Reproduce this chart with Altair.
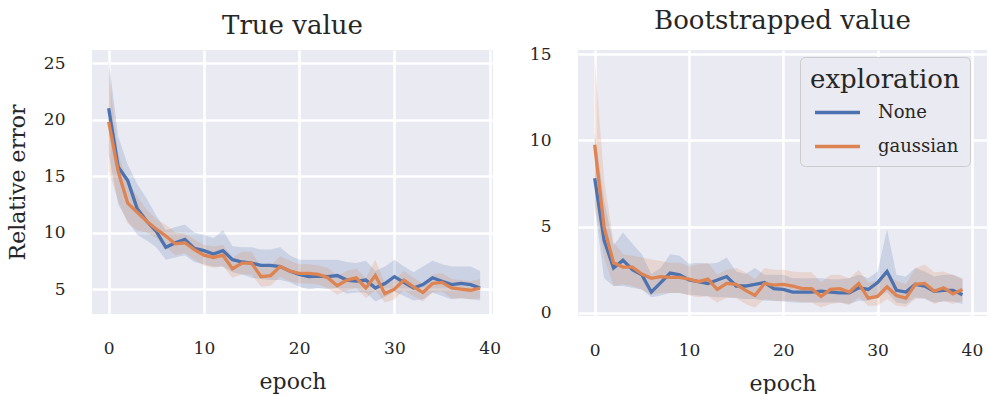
import altair as alt
import pandas as pd

# ---- data -------------------------------------------------------------
epochs = list(range(40))
methods = ["None", "gaussian"]

# "True value" panel: mean relative error and its 95% band per epoch
true_none = [21.0, 15.8, 14.6, 12.1, 11.0, 10.1, 8.7, 9.1, 9.4, 8.6,
             8.4, 8.1, 8.4, 7.6, 7.4, 7.3, 7.1, 7.1, 7.0, 6.6,
             6.3, 6.1, 6.15, 6.1, 6.2, 5.8, 5.7, 5.8, 5.1, 5.5,
             6.1, 5.6, 5.1, 5.4, 6.0, 5.7, 5.4, 5.5, 5.4, 5.1]
true_none_lo = [16.9, 12.5, 11.0, 9.8, 9.3, 8.7, 7.6, 7.8, 8.0, 7.4,
                7.2, 7.0, 7.0, 6.5, 6.3, 6.0, 5.9, 5.8, 5.8, 5.6,
                5.2, 5.0, 5.1, 5.0, 5.1, 4.6, 4.7, 4.7, 3.9, 4.3,
                4.8, 4.4, 4.0, 4.1, 4.7, 4.4, 4.1, 4.2, 4.1, 4.0]
true_none_hi = [25.3, 18.5, 16.0, 14.3, 13.0, 11.5, 10.2, 10.5, 10.7, 10.0,
                9.8, 9.5, 10.2, 8.8, 8.7, 8.7, 8.5, 8.5, 8.7, 8.0,
                7.6, 7.6, 7.6, 7.6, 7.6, 7.4, 7.3, 7.5, 6.6, 7.0,
                7.6, 7.0, 6.5, 7.0, 7.5, 7.2, 7.0, 7.0, 7.0, 6.6]
true_gauss = [19.8, 15.4, 12.6, 11.8, 11.0, 10.3, 9.7, 9.0, 9.1, 8.5,
              8.0, 7.8, 8.0, 6.8, 7.3, 7.3, 6.1, 6.2, 7.0, 6.6,
              6.4, 6.4, 6.3, 6.0, 5.3, 5.8, 6.0, 5.1, 6.2, 4.6,
              5.0, 5.8, 5.2, 4.7, 5.5, 5.6, 5.1, 5.0, 4.9, 5.1]
true_gauss_lo = [15.5, 12.8, 10.8, 10.2, 10.0, 9.5, 8.7, 8.0, 8.2, 7.6,
                 7.1, 6.9, 7.0, 6.0, 6.3, 6.3, 5.2, 5.3, 6.1, 5.7,
                 5.5, 5.5, 5.4, 5.1, 4.5, 4.9, 5.1, 4.2, 4.9, 3.8,
                 4.1, 4.9, 4.4, 3.9, 4.7, 4.8, 4.2, 4.2, 4.1, 4.2]
true_gauss_hi = [24.4, 17.0, 14.5, 13.2, 12.0, 11.2, 10.7, 10.0, 9.9, 9.4,
                 8.9, 8.8, 8.9, 7.8, 8.3, 8.3, 7.0, 7.1, 7.9, 7.5,
                 7.2, 7.2, 7.1, 6.9, 6.2, 6.6, 6.8, 6.0, 7.6, 5.5,
                 5.8, 6.6, 6.0, 5.5, 6.3, 6.4, 5.9, 5.8, 5.7, 5.9]

# "Bootstrapped value" panel
boot_none = [7.8, 4.2, 2.6, 3.05, 2.5, 2.2, 1.2, 1.75, 2.3, 2.2,
             1.9, 1.8, 1.7, 1.9, 2.1, 1.55, 1.55, 1.65, 1.75, 1.4,
             1.35, 1.2, 1.2, 1.2, 1.25, 1.2, 1.15, 1.15, 1.45, 1.35,
             1.75, 2.4, 1.3, 1.2, 1.65, 1.55, 1.25, 1.3, 1.3, 1.05]
boot_none_lo = [6.1, 2.0, 1.55, 1.55, 1.45, 1.35, 0.9, 1.0, 1.15, 1.15,
                1.05, 1.0, 0.95, 0.9, 0.9, 0.85, 0.8, 0.8, 0.7, 0.7,
                0.65, 0.6, 0.6, 0.6, 0.6, 0.6, 0.6, 0.5, 0.7, 0.7,
                0.9, 1.2, 0.6, 0.5, 0.9, 0.8, 0.6, 0.65, 0.65, 0.5]
boot_none_hi = [10.4, 6.5, 3.9, 4.65, 4.0, 3.4, 2.25, 2.6, 3.4, 3.3,
                2.85, 2.9, 2.85, 2.9, 3.2, 2.4, 2.25, 2.6, 2.2, 2.2,
                2.2, 2.0, 2.0, 2.0, 2.0, 1.95, 1.95, 2.0, 2.2, 2.0,
                2.4, 4.85, 2.2, 2.1, 2.6, 2.4, 2.1, 2.2, 2.2, 1.95]
boot_gauss = [9.75, 4.95, 2.9, 2.65, 2.65, 2.25, 2.0, 2.1, 2.05, 2.05,
              1.95, 1.8, 1.95, 1.35, 1.7, 1.65, 1.3, 1.0, 1.7, 1.6,
              1.65, 1.55, 1.4, 1.4, 0.95, 1.35, 1.4, 1.2, 1.7, 0.85,
              0.95, 1.5, 1.0, 0.85, 1.65, 1.7, 1.25, 1.45, 1.1, 1.35]
boot_gauss_lo = [6.3, 3.2, 1.55, 1.65, 1.55, 1.35, 1.05, 1.15, 1.15, 1.15,
                 1.0, 0.9, 0.95, 0.6, 0.85, 0.85, 0.5, 0.3, 0.8, 0.7,
                 0.7, 0.7, 0.6, 0.6, 0.3, 0.5, 0.6, 0.45, 0.9, 0.4,
                 0.4, 0.8, 0.4, 0.35, 0.8, 0.85, 0.5, 0.7, 0.5, 0.7]
boot_gauss_hi = [14.75, 7.7, 4.1, 3.4, 3.3, 3.2, 3.1, 3.0, 2.9, 2.9,
                 2.7, 2.8, 2.9, 2.2, 2.5, 2.6, 2.35, 1.95, 2.6, 2.5,
                 2.5, 2.4, 2.35, 2.35, 1.75, 2.2, 2.2, 2.0, 2.5, 1.75,
                 1.85, 2.2, 1.85, 1.65, 2.6, 2.8, 2.35, 2.4, 2.2, 2.0]

palette = ["#4C72B0", "#DD8452"]
FONT = "DejaVu Serif"
TEXT = "#262626"


def long_table(series):
    rows = []
    for name, (mean, lo, hi) in zip(methods, series):
        for e, m, l, h in zip(epochs, mean, lo, hi):
            rows.append({"epoch": e, "exploration": name, "value": m, "lo": l, "hi": h})
    return pd.DataFrame(rows)


def panel(df, title, xdom, ydom, yticks, ytitle, width, height, legend):
    base = alt.Chart(df)
    color = alt.Color("exploration:N", scale=alt.Scale(domain=methods, range=palette),
                      legend=legend)
    x = alt.X("epoch:Q", scale=alt.Scale(domain=xdom, nice=False, zero=False),
              axis=alt.Axis(values=[0, 10, 20, 30, 40], title="epoch"))
    y_axis = alt.Axis(values=yticks, title=ytitle) if ytitle else alt.Axis(values=yticks, title=None)
    y = alt.Y("value:Q", scale=alt.Scale(domain=ydom, nice=False, zero=False), axis=y_axis)

    band = base.mark_area(opacity=0.2, clip=True).encode(
        x=x,
        y=alt.Y("lo:Q", scale=alt.Scale(domain=ydom, nice=False, zero=False), axis=y_axis),
        y2="hi:Q",
        color=color,
    )
    line = base.mark_line(strokeWidth=3.3, clip=True).encode(x=x, y=y, color=color)
    return alt.layer(band, line).properties(
        width=width, height=height,
        title=alt.TitleParams(title, fontSize=26, font=FONT, fontWeight="normal",
                              color=TEXT, anchor="middle", baseline="alphabetic",
                              offset=-10, frame="group"),
    )


true_df = long_table([(true_none, true_none_lo, true_none_hi),
                      (true_gauss, true_gauss_lo, true_gauss_hi)])
boot_df = long_table([(boot_none, boot_none_lo, boot_none_hi),
                      (boot_gauss, boot_gauss_lo, boot_gauss_hi)])

legend = alt.Legend(
    title="exploration", orient="none", legendX=222, legendY=7,
    titleFontSize=26, titleFont=FONT, titleFontWeight="normal", titleColor=TEXT,
    titlePadding=-5,
    labelFontSize=18, labelFont=FONT, labelColor=TEXT,
    symbolType="stroke", symbolSize=2025, symbolStrokeWidth=3.5,
    symbolOpacity=1, symbolFillColor="transparent", symbolOffset=3,
    labelOffset=16, rowPadding=-21,
    fillColor="#EAEAF2", strokeColor="#cccccc", cornerRadius=5, padding=10,
)

left = panel(true_df, "True value", [-1.75, 40.35], [2.8, 26.15],
             [5, 10, 15, 20, 25], "Relative error", 401, 264, None)
right = panel(boot_df, "Bootstrapped value", [-1.77, 41.6], [-0.19, 15.25],
              [0, 5, 10, 15], None, 409, 266, legend)

chart = alt.hconcat(left, right, spacing=85, bounds="flush").resolve_legend(
    color="independent"
).properties(
    padding={"left": 6, "top": 8, "right": 0, "bottom": 0},
    background="white",
).configure_view(
    fill="#EAEAF2", stroke=None,
).configure_axis(
    domain=False, ticks=False, grid=True, gridColor="white", gridWidth=2.5,
    labelFont=FONT, labelFontSize=17, labelColor=TEXT,
    titleFont=FONT, titleFontSize=22, titleColor=TEXT, titleFontWeight="normal",
).configure_axisX(
    labelPadding=26, titlePadding=15,
).configure_axisY(
    labelPadding=27, titlePadding=14,
)

chart.save("out.html", embed_options={"renderer": "svg", "actions": False})
